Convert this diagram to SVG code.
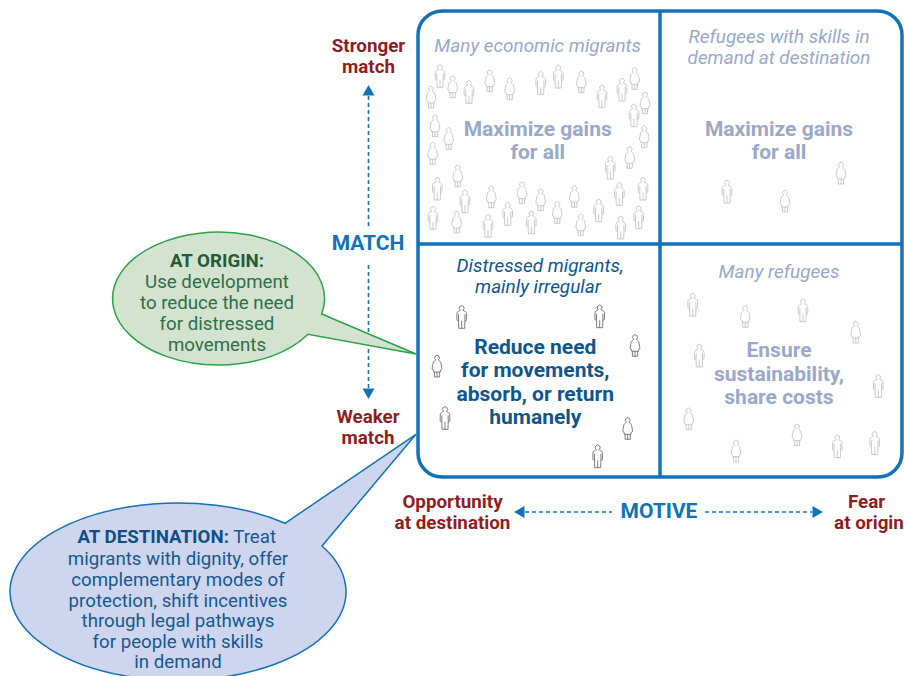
<svg xmlns="http://www.w3.org/2000/svg" xmlns:xlink="http://www.w3.org/1999/xlink" width="904" height="676" viewBox="0 0 904 676">
<style>
text{font-family:Roboto,"Liberation Sans",sans-serif;text-anchor:middle}
.b{font-weight:700}
.i{font-style:italic;font-size:18.900px}
.h{font-weight:700;font-size:21px}
.pale{fill:#9aa8ca}
.navy{fill:#0f568c}
.red{fill:#8f1d1f;font-weight:700;font-size:18.800px}
.axis{fill:#1272b8;font-weight:700;font-size:21px}
.gt{fill:#2f6e49;font-size:18.700px}
.bt{fill:#17588f;font-size:18.700px}
.dash{stroke:#1272b8;stroke-width:1.6;stroke-dasharray:4 3;fill:none}
.p{fill:#fff;stroke-width:.8}
.lt{stroke:#bcbcbc}
.dk{stroke:#5e5e5e}
</style>
<defs>
<symbol id="man" overflow="visible"><path d="M-1.2 4.900a2.400 2.400 0 1 1 2.400 0L3.400 6.200Q4.800 6.800 4.800 8.500V14.500Q4.800 15.500 3.200 15.500L3 23H-3L-3.200 15.500Q-4.800 15.500-4.800 14.500V8.500Q-4.800 6.800-3.400 6.200ZM0 15.500V23M-3.200 9V15.500M3.200 9V15.500"/></symbol>
<symbol id="woman" overflow="visible"><path d="M-1.2 4.900a2.400 2.400 0 1 1 2.400 0L2.800 6.200Q3.800 6.800 4 8.500L4.900 13.500Q4.900 15 3.600 15L3.300 17H-3.300L-3.600 15Q-4.900 15-4.900 13.500L-4 8.500Q-3.800 6.800-2.800 6.200ZM-2.600 17V22H2.600V17M0 17V22"/></symbol>
</defs>

<g id="connectors">
<path class="dash" d="M368.500 96V228"/>
<path d="M368.500 85l6 10.500h-12z" fill="#1272b8"/>
<path class="dash" d="M368.500 265V390"/>
<path d="M368.500 399l6-10.500h-12z" fill="#1272b8"/>
<path class="dash" d="M525 512H612"/>
<path d="M514 512l10.500-6v12z" fill="#1272b8"/>
<path class="dash" d="M705 512H812"/>
<path d="M823 512l-10.500-6v12z" fill="#1272b8"/>
</g>

<g id="matrix">
<rect x="418" y="11" width="484" height="466" rx="24" fill="#fff" stroke="#1272b8" stroke-width="3.500"/>
<path d="M660 11V477M418 244H902" fill="none" stroke="#1272b8" stroke-width="3.500"/>
</g>

<g id="quadrant-top-left">
<text class="i pale" x="537.700" y="51.700">Many economic migrants</text>
<text class="h pale" x="537.700" y="136">Maximize gains</text>
<text class="h pale" x="537.700" y="158.500">for all</text>
<g class="p lt">
<use href="#man" x="440" y="64.300"/><use href="#woman" x="452.700" y="75.700"/><use href="#man" x="469" y="80.300"/><use href="#woman" x="431" y="86"/><use href="#woman" x="489.700" y="69.700"/><use href="#woman" x="509.700" y="77.700"/><use href="#man" x="540.700" y="71.300"/><use href="#man" x="558.300" y="65"/><use href="#woman" x="581.300" y="70.700"/><use href="#man" x="602" y="84.700"/><use href="#man" x="622" y="78"/><use href="#woman" x="634.700" y="67.300"/><use href="#woman" x="645" y="91.700"/><use href="#man" x="634" y="103.700"/><use href="#woman" x="435" y="114.700"/><use href="#woman" x="448.700" y="127.300"/><use href="#woman" x="644.300" y="125.700"/><use href="#woman" x="432.700" y="142.300"/><use href="#woman" x="629.700" y="146.300"/><use href="#man" x="610.300" y="156"/><use href="#woman" x="457.700" y="164.700"/><use href="#man" x="437.300" y="177"/><use href="#woman" x="491.300" y="185.700"/><use href="#woman" x="522" y="181.700"/><use href="#woman" x="540.700" y="188.700"/><use href="#woman" x="574.300" y="185.300"/><use href="#man" x="619.300" y="182.300"/><use href="#man" x="643" y="177"/><use href="#man" x="465" y="189.700"/><use href="#man" x="507.700" y="202.300"/><use href="#woman" x="557.300" y="201.300"/><use href="#man" x="598.700" y="198.700"/><use href="#man" x="433" y="206.300"/><use href="#woman" x="456.700" y="211"/><use href="#man" x="488" y="214.300"/><use href="#man" x="531.300" y="210.700"/><use href="#woman" x="580.700" y="213.700"/><use href="#man" x="620.700" y="216"/><use href="#man" x="638.700" y="205.700"/>
</g>
</g>

<g id="quadrant-top-right">
<text class="i pale" x="779" y="43">Refugees with skills in</text>
<text class="i pale" x="779" y="64">demand at destination</text>
<text class="h pale" x="779" y="136">Maximize gains</text>
<text class="h pale" x="779" y="158.500">for all</text>
<g class="p lt"><use href="#man" x="727" y="180"/><use href="#woman" x="785" y="190"/><use href="#woman" x="841" y="162"/></g>
</g>

<g id="quadrant-bottom-left">
<text class="i navy" x="540" y="271.700">Distressed migrants,</text>
<text class="i navy" x="538" y="292.700">mainly irregular</text>
<text class="h navy" x="535.300" y="354">Reduce need</text>
<text class="h navy" x="535.300" y="377">for movements,</text>
<text class="h navy" x="535.300" y="400.500">absorb, or return</text>
<text class="h navy" x="535.300" y="424">humanely</text>
<g class="p dk"><use href="#man" x="461.700" y="305.300"/><use href="#man" x="599.700" y="304.700"/><use href="#woman" x="635" y="334.300"/><use href="#woman" x="437" y="355"/><use href="#man" x="445" y="406.300"/><use href="#woman" x="627.700" y="417.300"/><use href="#man" x="597.700" y="444.700"/></g>
</g>

<g id="quadrant-bottom-right">
<text class="i pale" x="779" y="278">Many refugees</text>
<text class="h pale" x="779" y="356.700">Ensure</text>
<text class="h pale" x="779" y="380.500">sustainability,</text>
<text class="h pale" x="779" y="403.500">share costs</text>
<g class="p lt"><use href="#man" x="692.700" y="293"/><use href="#woman" x="745.300" y="305.300"/><use href="#man" x="803" y="298.700"/><use href="#woman" x="855.700" y="321"/><use href="#man" x="699.300" y="344"/><use href="#man" x="878.300" y="374.300"/><use href="#woman" x="688.700" y="407.700"/><use href="#woman" x="736" y="439.700"/><use href="#woman" x="797" y="423.700"/><use href="#man" x="837.300" y="434.700"/><use href="#man" x="874.700" y="431.300"/></g>
</g>

<g id="axis-match">
<text class="red" x="368.500" y="52">Stronger</text>
<text class="red" x="368.500" y="73">match</text>
<text class="axis" x="368" y="249.500">MATCH</text>
<text class="red" x="368" y="423">Weaker</text>
<text class="red" x="368" y="444">match</text>
</g>

<g id="axis-motive">
<text class="red" x="452.500" y="508">Opportunity</text>
<text class="red" x="452.500" y="529">at destination</text>
<text class="axis" x="659" y="518">MOTIVE</text>
<text class="red" x="866.500" y="508">Fear</text>
<text class="red" x="869" y="529">at origin</text>
</g>

<g id="bubble-origin">
<path d="M321.700 314L416 354L308 334.300A106 66.500 0 1 1 321.700 314Z" fill="#d4e3cf" stroke="#2ba24a" stroke-width="1.500"/>
<text class="gt b" x="217" y="266.700" style="fill:#215c3a">AT ORIGIN:</text>
<text class="gt" x="217" y="288">Use development</text>
<text class="gt" x="217" y="309">to reduce the need</text>
<text class="gt" x="217" y="330">for distressed</text>
<text class="gt" x="217" y="351">movements</text>
</g>

<g id="bubble-destination">
<path d="M285 523.300L416 434.300L322 546A168 88.700 0 1 1 285 523.300Z" fill="#cdd6ee" stroke="#1272b8" stroke-width="1.500"/>
<text class="bt" x="176.700" y="543.300"><tspan class="b" style="fill:#0f4f86">AT DESTINATION:</tspan> Treat</text>
<text class="bt" x="178" y="565">migrants with dignity, offer</text>
<text class="bt" x="178" y="586">complementary modes of</text>
<text class="bt" x="178" y="606.700">protection, shift incentives</text>
<text class="bt" x="178" y="626.700">through legal pathways</text>
<text class="bt" x="178" y="647.500">for people with skills</text>
<text class="bt" x="178" y="668">in demand</text>
</g>
</svg>
